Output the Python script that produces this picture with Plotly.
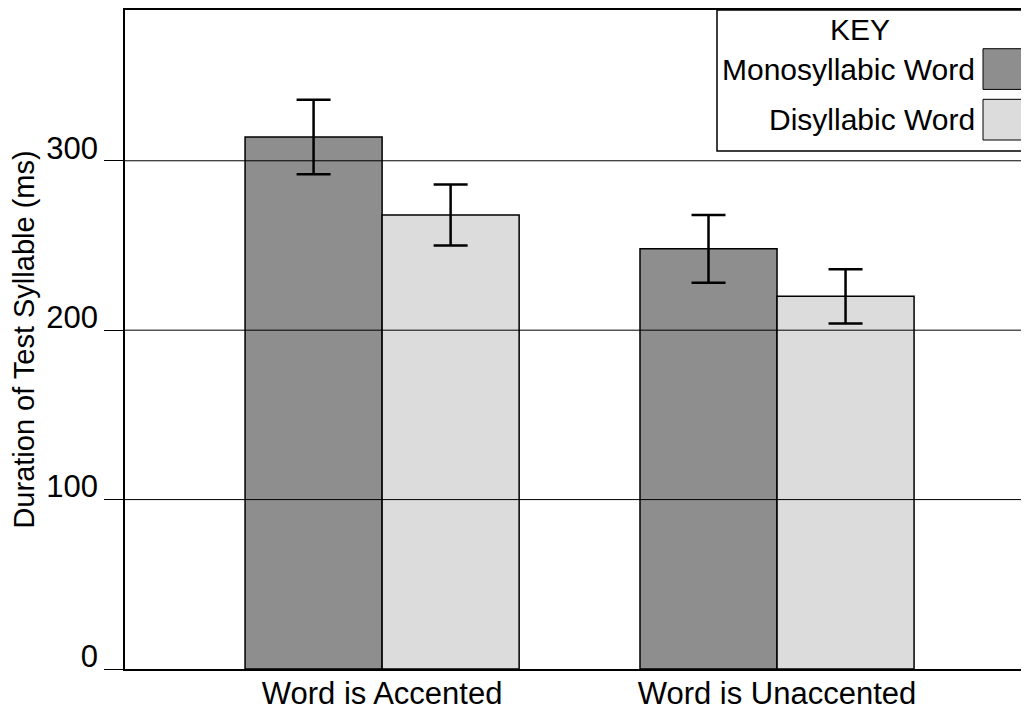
import plotly.graph_objects as go

categories = ["Word is Accented", "Word is Unaccented"]
mono_values = [314, 248]
mono_errors = [22, 20]
di_values = [268, 220]
di_errors = [18, 16]
y_ticks = [0, 100, 200, 300]
series_names = ["Monosyllabic Word", "Disyllabic Word"]
series_colors = ["#8e8e8e", "#dcdcdc"]

FONT = "Liberation Sans, Arial, Helvetica, sans-serif"
OFF = 8  # page body margin
W, H = 1029 - OFF, 711 - OFF
ML, MR, MT, MB = 125 - OFF, 0, 0, 39

fig = go.Figure()
for name, vals, errs, col in [
    (series_names[0], mono_values, mono_errors, series_colors[0]),
    (series_names[1], di_values, di_errors, series_colors[1]),
]:
    fig.add_trace(go.Bar(
        x=categories, y=vals, name=name,
        marker=dict(color=col, line=dict(color="black", width=1.5)),
        error_y=dict(type="data", array=errs, visible=True, color="black",
                     thickness=2.5, width=17),
        showlegend=False,
    ))

# gridlines drawn above the bars, at the tick values
for t in y_ticks[1:]:
    fig.add_shape(type="line", xref="paper", yref="y", x0=0, x1=1, y0=t, y1=t,
                  line=dict(color="black", width=1), layer="above")

# custom legend ("KEY") box, swatches on the right (screen px -> paper)
pw = W - ML - MR
ph = H - MT - MB
def px_x(px):
    return (px - OFF - ML) / pw
def px_y(py):
    return (H - MB - (py - OFF)) / ph

fig.add_shape(type="rect", xref="paper", yref="paper",
              x0=px_x(717), x1=px_x(1029) + 0.01, y0=px_y(150), y1=1,
              line=dict(color="black", width=1.5), fillcolor="white", layer="above")
fig.add_annotation(xref="paper", yref="paper", x=px_x(860), y=px_y(28),
                   text="KEY", showarrow=False, xanchor="center", yanchor="middle",
                   font=dict(family=FONT, size=30, color="black"))
sw_rows = [(47, 88), (98, 139)]
for (top, bot), name, col in zip(sw_rows, series_names, series_colors):
    fig.add_shape(type="rect", xref="paper", yref="paper",
                  x0=px_x(983), x1=px_x(1025), y0=px_y(bot), y1=px_y(top),
                  line=dict(color="black", width=1), fillcolor=col, layer="above")
    fig.add_annotation(xref="paper", yref="paper", x=px_x(977), y=px_y((top + bot) / 2),
                       text=name, showarrow=False, xanchor="right", yanchor="middle",
                       font=dict(family=FONT, size=30, color="black"))

fig.update_layout(
    width=W, height=H,
    margin=dict(l=ML, r=MR, t=MT, b=MB, pad=0),
    paper_bgcolor="white", plot_bgcolor="white",
    barmode="group", bargap=0.306, bargroupgap=0,
    font=dict(family=FONT, size=29, color="black"),
)
fig.update_xaxes(
    range=[-0.651, 1.638], showgrid=False, showline=True, linecolor="black",
    linewidth=1.5, mirror=True, ticks="", ticklabelstandoff=-4,
    tickfont=dict(family=FONT, size=31, color="black"),
)
fig.update_yaxes(
    range=[0, 389], tickvals=y_ticks, showgrid=False, zeroline=False,
    showline=True, linecolor="black", linewidth=1.5, mirror=False,
    ticks="outside", ticklen=19, tickcolor="black", tickwidth=1,
    ticklabelshift=-13, ticklabelstandoff=0,
    tickfont=dict(family=FONT, size=31, color="black"),
    title=dict(text="Duration of Test Syllable (ms)", standoff=8,
               font=dict(family=FONT, size=29, color="black")),
)

fig.write_html("out.html")
